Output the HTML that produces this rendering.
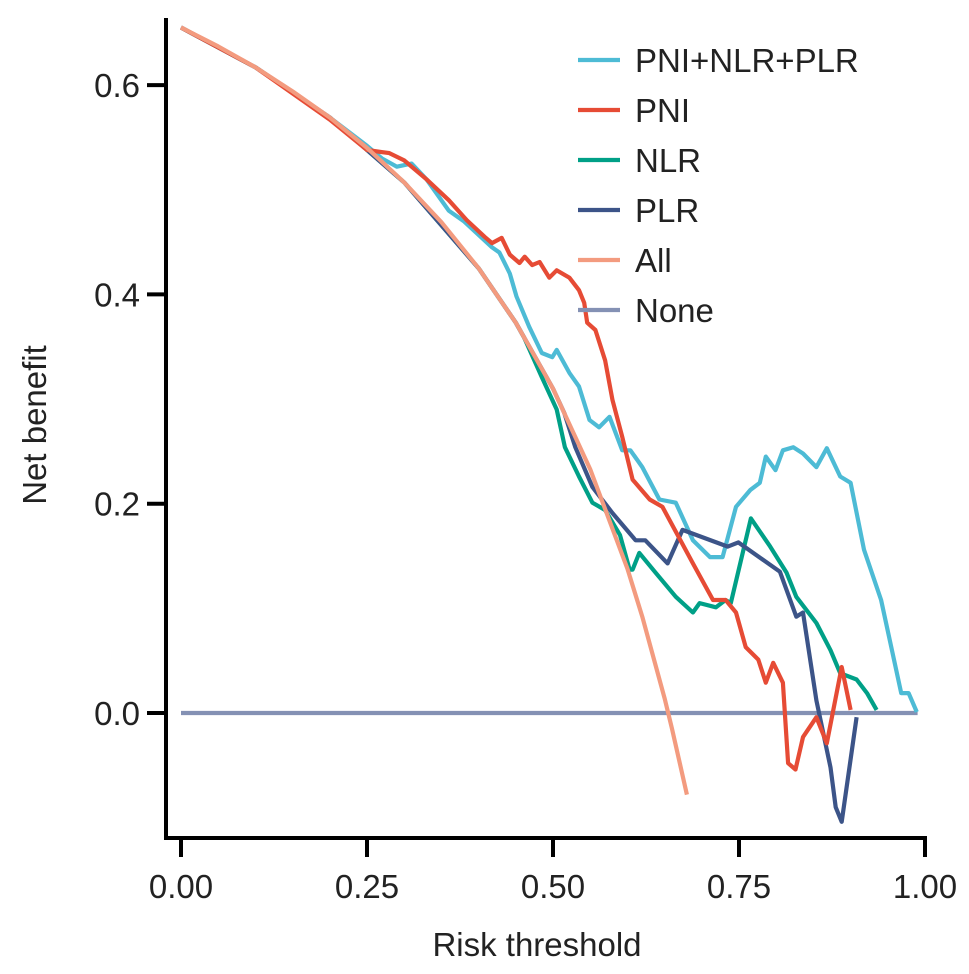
<!DOCTYPE html>
<html><head><meta charset="utf-8"><style>
html,body{margin:0;padding:0;background:#fff;}
svg{display:block;font-family:"Liberation Sans",Arial,sans-serif;}
</style></head><body>
<svg id="chart" width="969" height="974" viewBox="0 0 969 974"></svg>
<script>
const xTicks=[0,0.25,0.5,0.75,1.0];
const xTickLabels=["0.00","0.25","0.50","0.75","1.00"];
const yTicks=[0,0.2,0.4,0.6];
const yTickLabels=["0.0","0.2","0.4","0.6"];
const seriesNames=["PNI+NLR+PLR","PNI","NLR","PLR","All","None"];
const seriesColors=["#4DBBD5","#E64B35","#00A087","#3C5488","#F39B7F","#8491B4"];
const allT=[0,0.05,0.1,0.15,0.2,0.25,0.3,0.35,0.4,0.45,0.5,0.55,0.6,0.62,0.65,0.66,0.68];
const allY=[0.655,0.637,0.617,0.594,0.569,0.540,0.507,0.469,0.425,0.373,0.31,0.233,0.138,0.092,0.014,-0.015,-0.078];
const pniT=[0,0.1,0.2,0.25,0.28,0.3,0.33,0.36,0.384,0.408,0.418,0.431,0.442,0.455,0.462,0.472,0.482,0.495,0.505,0.522,0.535,0.542,0.546,0.557,0.57,0.58,0.593,0.607,0.63,0.647,0.688,0.715,0.732,0.746,0.759,0.776,0.786,0.796,0.809,0.816,0.826,0.836,0.854,0.868,0.888,0.9];
const pniY=[0.655,0.617,0.567,0.538,0.535,0.528,0.51,0.49,0.471,0.455,0.449,0.454,0.438,0.43,0.436,0.428,0.431,0.416,0.423,0.416,0.404,0.392,0.373,0.366,0.337,0.299,0.264,0.223,0.204,0.197,0.143,0.108,0.108,0.096,0.063,0.051,0.029,0.048,0.029,-0.048,-0.054,-0.023,-0.004,-0.029,0.044,0.003];
const comboT=[0,0.1,0.2,0.25,0.27,0.29,0.31,0.33,0.36,0.38,0.418,0.428,0.442,0.451,0.468,0.485,0.499,0.505,0.522,0.535,0.549,0.562,0.576,0.593,0.604,0.62,0.643,0.665,0.688,0.711,0.728,0.746,0.765,0.778,0.786,0.799,0.809,0.823,0.836,0.854,0.868,0.886,0.9,0.918,0.941,0.968,0.978,0.989];
const comboY=[0.655,0.617,0.569,0.542,0.53,0.522,0.525,0.51,0.48,0.47,0.445,0.44,0.42,0.398,0.369,0.344,0.34,0.347,0.325,0.312,0.28,0.273,0.283,0.251,0.251,0.235,0.204,0.201,0.165,0.149,0.149,0.197,0.213,0.22,0.245,0.232,0.251,0.254,0.248,0.235,0.253,0.226,0.22,0.156,0.108,0.019,0.019,0.001];
const nlrT=[0,0.1,0.2,0.3,0.4,0.45,0.461,0.485,0.505,0.516,0.535,0.553,0.57,0.59,0.603,0.607,0.616,0.638,0.665,0.688,0.697,0.719,0.732,0.739,0.766,0.792,0.814,0.827,0.854,0.873,0.886,0.908,0.922,0.935];
const nlrY=[0.655,0.617,0.569,0.507,0.425,0.373,0.359,0.321,0.29,0.254,0.226,0.201,0.194,0.17,0.137,0.137,0.153,0.134,0.111,0.096,0.105,0.101,0.108,0.105,0.186,0.159,0.134,0.111,0.086,0.06,0.038,0.032,0.019,0.003];
const plrT=[0,0.1,0.2,0.3,0.4,0.45,0.5,0.515,0.53,0.553,0.58,0.611,0.624,0.654,0.674,0.735,0.749,0.805,0.827,0.836,0.854,0.873,0.88,0.888,0.908];
const plrY=[0.655,0.617,0.569,0.507,0.425,0.373,0.31,0.287,0.254,0.216,0.191,0.165,0.165,0.143,0.175,0.159,0.163,0.135,0.092,0.096,0.012,-0.052,-0.09,-0.104,-0.004];
const noneT=[0,0.99];
const noneY=[0,0];

const NS="http://www.w3.org/2000/svg";
const svg=document.getElementById('chart');
const X0=181,XS=744,Y0=713,YS=1046.5;
function xs(t){return X0+t*XS;}
function ys(v){return Y0-v*YS;}
function mk(tag,attrs){const e=document.createElementNS(NS,tag);for(const k in attrs)e.setAttribute(k,attrs[k]);svg.appendChild(e);return e;}

const sets=[[comboT,comboY],[pniT,pniY],[nlrT,nlrY],[plrT,plrY],[allT,allY],[noneT,noneY]];
const order=[5,0,2,3,1,4];
order.forEach(i=>{
  const [T,V]=sets[i];
  const d=T.map((t,k)=>(k?'L':'M')+xs(t).toFixed(1)+','+ys(V[k]).toFixed(1)).join(' ');
  const p=mk('path',{d:d,fill:'none',stroke:seriesColors[i],'stroke-width':4.2,'stroke-linejoin':'round'});
  
  
});

const ax=mk('path',{d:'M166,18 L166,838 L927,838',fill:'none',stroke:'#000','stroke-width':4});


xTicks.forEach((t,i)=>{
  const tk=mk('line',{x1:xs(t),x2:xs(t),y1:838,y2:857,stroke:'#000','stroke-width':4});
  
  
  const tx=mk('text',{x:xs(t),y:898,'text-anchor':'middle','font-size':33,fill:'#222'});
  tx.textContent=xTickLabels[i];
  
  
});
yTicks.forEach((v,i)=>{
  const tk=mk('line',{x1:147,x2:166,y1:ys(v),y2:ys(v),stroke:'#000','stroke-width':4});
  
  
  const tx=mk('text',{x:140,y:ys(v)+12,'text-anchor':'end','font-size':33,fill:'#222'});
  tx.textContent=yTickLabels[i];
  
  
});
const xt=mk('text',{x:537,y:956,'text-anchor':'middle','font-size':33,fill:'#222'});
xt.textContent='Risk threshold';


const yt=mk('text',{x:46,y:425,'text-anchor':'middle','font-size':33,fill:'#222',transform:'rotate(-90 46 425)'});
yt.textContent='Net benefit';



seriesNames.forEach((n,i)=>{
  const y=60+i*50;
  const l=mk('line',{x1:578,x2:620,y1:y,y2:y,stroke:seriesColors[i],'stroke-width':4.2});
  
  
  const t=mk('text',{x:635,y:y+12,'font-size':33,fill:'#222'});
  t.textContent=n;
  
  
});
</script>
</body></html>
